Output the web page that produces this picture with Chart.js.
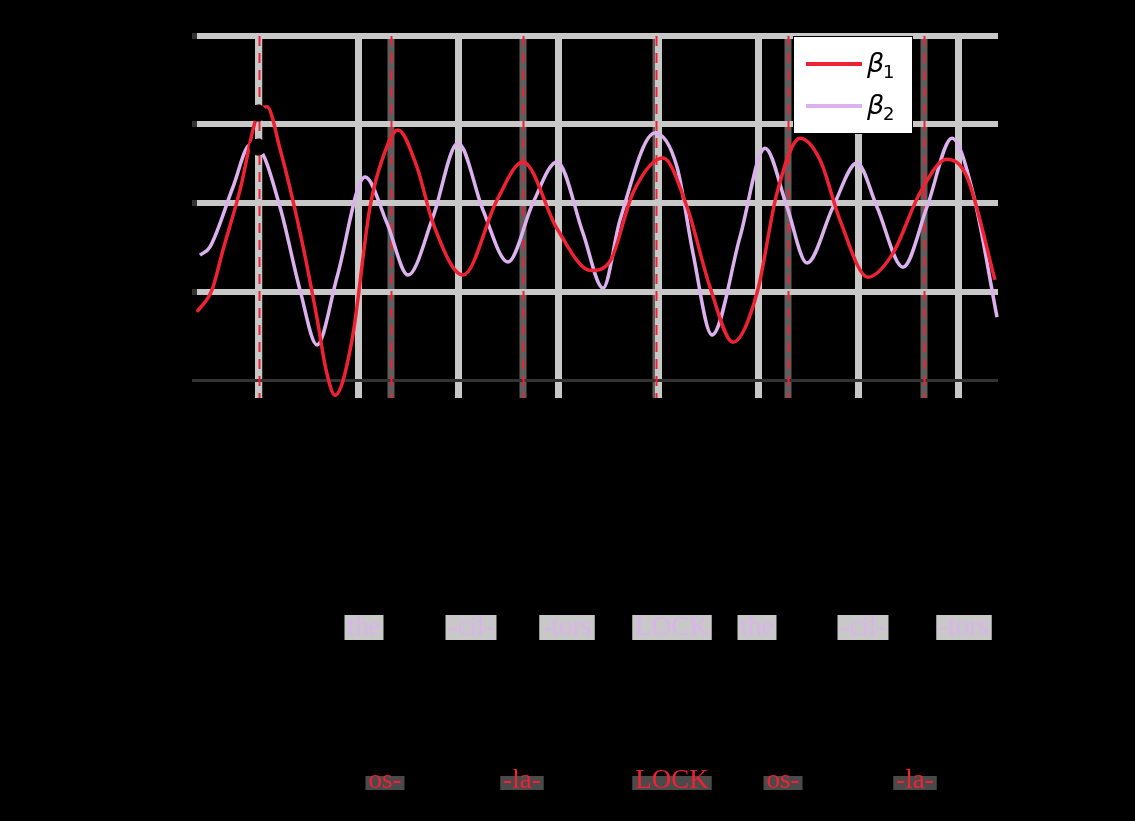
<!DOCTYPE html>
<html>
<head>
<meta charset="utf-8">
<script src="https://cdn.jsdelivr.net/npm/chart.js@4.4.1/dist/chart.umd.min.js"></script>
<style>
  body { margin: 0; background: #000; }
  canvas { display: block; }
</style>
</head>
<body>
<canvas id="chart" width="1135" height="821"></canvas>
<script>
// Series (time in syllable units, amplitude)
const beta1X = [-0.61, -0.46, -0.35, -0.18, 0, 0.09, 0.22, 0.42, 0.59, 0.68, 0.77, 0.94, 1.12, 1.25, 1.40, 1.59, 1.75,
  2.05, 2.39, 2.65, 2.99, 3.33, 3.52, 3.75, 4.05, 4.29, 4.52, 4.75, 4.99, 5.19, 5.42, 5.62, 5.82,
  6.10, 6.35, 6.62, 6.89, 7.09, 7.37];
const beta1Y = [0.198, 0.262, 0.378, 0.552, 0.776, 0.794, 0.672, 0.430, 0.180, 0.030, -0.044, 0.116, 0.503, 0.648, 0.727, 0.619, 0.456,
  0.305, 0.523, 0.634, 0.440, 0.318, 0.345, 0.544, 0.645, 0.503, 0.270, 0.110, 0.253, 0.544, 0.703, 0.640, 0.465,
  0.299, 0.369, 0.544, 0.642, 0.590, 0.291];

const beta2X = [-0.58, -0.48, -0.25, -0.08, 0, 0.22, 0.42, 0.59, 0.79, 1.07, 1.29, 1.50, 1.75, 2.00, 2.25,
  2.50, 2.75, 2.99, 3.25, 3.45, 3.62, 3.97, 4.19, 4.35, 4.54, 4.82, 5.07, 5.29, 5.49, 5.75,
  5.99, 6.19, 6.45, 6.69, 6.94, 7.15, 7.39];
const beta2Y = [0.363, 0.387, 0.561, 0.683, 0.677, 0.503, 0.262, 0.102, 0.299, 0.590, 0.456, 0.305, 0.474, 0.689, 0.494,
  0.343, 0.515, 0.634, 0.427, 0.267, 0.465, 0.718, 0.619, 0.369, 0.131, 0.416, 0.674, 0.503, 0.340, 0.503,
  0.631, 0.503, 0.328, 0.503, 0.703, 0.544, 0.183];

const seriesNames = ["β", "β"];
const seriesSubs = ["1", "2"];

// Marked points at t = 0
const dotX = [0, 0];
const dotY = [0.776, 0.677];

// Grid / syllable positions
const beta2Ticks = [0, 1, 2, 3, 4, 5, 6, 7];
const beta1Ticks = [0.01, 1.33, 2.65, 3.98, 5.30, 6.66];
const yTicks = [0, 0.256, 0.515, 0.744, 1];

// Syllable labels below the plot
const beta2Words = ["the", "-cil-", "-tors", "LOCK", "the", "-cil-", "-tors"];
const beta2WordX = [1.06, 2.13, 3.09, 4.14, 4.99, 6.05, 7.06];
const beta1Words = ["os-", "-la-", "LOCK", "os-", "-la-"];
const beta1WordX = [1.27, 2.64, 4.14, 5.25, 6.57];

const RED = "#ee2233";
const PINK = "#dcb2ee";
const GRID = "#c8c8c8";

const toPoints = (xs, ys) => xs.map((x, i) => ({ x: x, y: ys[i] }));

const beta1Columns = {
  id: "beta1Columns",
  beforeDraw(chart) {
    const { ctx, chartArea } = chart;
    const xs = chart.scales.x;
    ctx.save();
    ctx.fillStyle = "#5e5e5e";
    beta1Ticks.forEach((v) => {
      const px = xs.getPixelForValue(v);
      ctx.fillRect(px - 3.5, chartArea.top, 7, chartArea.bottom - chartArea.top + 18);
    });
    ctx.restore();
  },
  beforeDatasetsDraw(chart) {
    const { ctx, chartArea } = chart;
    const xs = chart.scales.x;
    ctx.save();
    ctx.strokeStyle = RED;
    ctx.lineWidth = 2;
    ctx.setLineDash([10, 7]);
    beta1Ticks.forEach((v) => {
      const px = Math.round(xs.getPixelForValue(v)) + 0.5;
      ctx.beginPath();
      ctx.moveTo(px, chartArea.top);
      ctx.lineTo(px, chartArea.bottom + 18);
      ctx.stroke();
    });
    ctx.restore();
  },
};

const wordsAndLegend = {
  id: "wordsAndLegend",
  afterDraw(chart) {
    const { ctx, chartArea } = chart;
    const xs = chart.scales.x;
    ctx.save();
    ctx.font = "27px 'Liberation Serif'";
    ctx.textAlign = "center";
    ctx.textBaseline = "middle";

    beta2Words.forEach((w, i) => {
      const px = xs.getPixelForValue(beta2WordX[i]);
      const wd = ctx.measureText(w).width + 6;
      ctx.fillStyle = GRID;
      ctx.fillRect(px - wd / 2, 615, wd, 25);
      ctx.fillStyle = PINK;
      ctx.fillText(w, px, 628);
    });

    beta1Words.forEach((w, i) => {
      const px = xs.getPixelForValue(beta1WordX[i]);
      const wd = ctx.measureText(w).width + 6;
      ctx.fillStyle = "#4a4a4a";
      ctx.fillRect(px - wd / 2, 776, wd, 14);
      ctx.fillStyle = RED;
      ctx.fillText(w, px, 781);
    });

    // legend box
    const lx = chartArea.right - 205;
    const ly = chartArea.top;
    ctx.fillStyle = "#fff";
    ctx.fillRect(lx, ly, 120, 98);
    ctx.strokeStyle = "#000";
    ctx.lineWidth = 1;
    ctx.strokeRect(lx + 0.5, ly + 0.5, 119, 97);
    [RED, PINK].forEach((c, i) => {
      const cy = ly + 28 + i * 42;
      ctx.strokeStyle = c;
      ctx.lineWidth = 4;
      ctx.beginPath();
      ctx.moveTo(lx + 13, cy);
      ctx.lineTo(lx + 69, cy);
      ctx.stroke();
      ctx.fillStyle = "#000";
      ctx.textAlign = "left";
      ctx.textBaseline = "alphabetic";
      ctx.font = "italic 27px 'DejaVu Sans'";
      ctx.fillText(seriesNames[i], lx + 74, cy + 8);
      ctx.font = "18px 'DejaVu Sans'";
      ctx.fillText(seriesSubs[i], lx + 90, cy + 14);
    });
    ctx.restore();
  },
};

const ctx = document.getElementById("chart").getContext("2d");
const chart = new Chart(ctx, {
  type: "line",
  data: {
    datasets: [
      {
        label: "dots",
        type: "scatter",
        data: toPoints(dotX, dotY),
        backgroundColor: "#000",
        borderColor: "#000",
        pointRadius: 8,
        showLine: false,
        clip: false,
      },
      {
        label: "β1",
        data: toPoints(beta1X, beta1Y),
        borderColor: RED,
        borderWidth: 3.5,
        pointRadius: 0,
        cubicInterpolationMode: "monotone",
        fill: false,
        clip: false,
      },
      {
        label: "β2",
        data: toPoints(beta2X, beta2Y),
        borderColor: PINK,
        borderWidth: 3.5,
        pointRadius: 0,
        cubicInterpolationMode: "monotone",
        fill: false,
        clip: false,
      },
    ],
  },
  options: {
    responsive: false,
    animation: false,
    devicePixelRatio: 1,
    layout: { padding: { top: 36, right: 137, left: 0, bottom: 0 } },
    plugins: {
      legend: { display: false },
      tooltip: { enabled: false },
    },
    scales: {
      x: {
        type: "linear",
        min: -0.61,
        max: 7.4,
        afterBuildTicks: (scale) => {
          scale.ticks = beta2Ticks.map((v) => ({ value: v }));
        },
        afterFit: (scale) => {
          scale.height = 441;
        },
        ticks: { display: false },
        grid: {
          color: GRID,
          lineWidth: 7,
          drawTicks: true,
          tickLength: 18,
        },
        border: { display: false },
      },
      y: {
        min: 0,
        max: 1,
        afterBuildTicks: (scale) => {
          scale.ticks = yTicks.map((v) => ({ value: v }));
        },
        afterFit: (scale) => {
          scale.width = 197;
        },
        ticks: { display: false },
        grid: {
          color: (c) => (c.tick && c.tick.value === 0 ? "#333" : GRID),
          lineWidth: (c) => (c.tick && c.tick.value === 0 ? 3 : 6),
          tickColor: "#333",
          tickLength: 5,
        },
        border: { display: false },
      },
    },
  },
  plugins: [beta1Columns, wordsAndLegend],
});
</script>
</body>
</html>
